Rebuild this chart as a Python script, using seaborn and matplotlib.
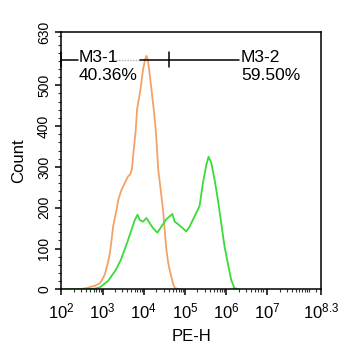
import numpy as np
import pandas as pd
import matplotlib
matplotlib.use("Agg")
import matplotlib.pyplot as plt
import matplotlib.ticker as mticker
import seaborn as sns

# ---- histogram traces (log10 of PE-H, event count) ----
control_log = [2.00, 2.40, 2.60, 2.70, 2.811, 2.932, 3.005, 3.053, 3.126, 3.174,
               3.206, 3.254, 3.337, 3.380, 3.458, 3.538, 3.617, 3.671, 3.707,
               3.755, 3.804, 3.835, 3.918, 3.981, 4.034, 4.063, 4.094, 4.126,
               4.184, 4.240, 4.288, 4.320, 4.349, 4.409, 4.465, 4.506, 4.547,
               4.591, 4.627, 4.707, 4.748, 4.821, 4.918]
control_count = [0, 0, 3, 6, 9, 15, 27, 37, 65, 88,
                 113, 154, 195, 220, 244, 261, 277, 282, 293,
                 343, 392, 441, 490, 540, 565, 572, 563, 540,
                 490, 441, 392, 343, 293, 244, 195, 146, 97,
                 65, 47, 15, 4, 1, 0]

sample_log = [2.00, 2.610, 2.811, 2.932, 3.133, 3.320, 3.441, 3.617, 3.700,
              3.780, 3.845, 3.901, 3.981, 4.063, 4.119, 4.223, 4.329, 4.426,
              4.547, 4.627, 4.692, 4.748, 4.828, 4.910, 5.031, 5.111, 5.232,
              5.354, 5.433, 5.516, 5.571, 5.637, 5.717, 5.797, 5.879, 5.959,
              6.039, 6.121, 6.201, 6.322]
sample_count = [0, 0, 2, 5, 21, 48, 72, 121, 146,
                170, 183, 170, 166, 175, 166, 150, 139, 154,
                172, 179, 185, 166, 160, 153, 142, 154, 179,
                205, 260, 305, 325, 310, 269, 220, 162, 105,
                64, 23, 3, 0]

# ---- gates ----
gate_names = ["M3-1", "M3-2"]
gate_pcts = ["40.36%", "59.50%"]
gate_edges_log = [2.0, 4.61, 6.30]
gate_level = 563

x_tick_exps = [2, 3, 4, 5, 6, 7, 8.3]
x_tick_labels = [r"$10^{2}$", r"$10^{3}$", r"$10^{4}$", r"$10^{5}$",
                 r"$10^{6}$", r"$10^{7}$", r"$10^{8.3}$"]
y_ticks = [0, 100, 200, 300, 400, 500, 630]

ORANGE = "#F2A266"
GREEN = "#38DC38"

sns.set_style("ticks")
plt.rcParams["font.family"] = ["Liberation Sans", "DejaVu Sans"]
plt.rcParams["mathtext.fontset"] = "custom"
plt.rcParams["mathtext.rm"] = "Liberation Sans"
plt.rcParams["mathtext.it"] = "Liberation Sans"
plt.rcParams["text.color"] = "black"
plt.rcParams["axes.labelcolor"] = "black"
plt.rcParams["xtick.color"] = "black"
plt.rcParams["ytick.color"] = "black"

df_c = pd.DataFrame({"PE-H": np.power(10.0, control_log), "Count": control_count})
df_s = pd.DataFrame({"PE-H": np.power(10.0, sample_log), "Count": sample_count})

fig = plt.figure(figsize=(3.5, 3.47), dpi=100)
ax = fig.add_axes([0.1757, 0.166, 0.7413, 0.741])

sns.lineplot(data=df_c, x="PE-H", y="Count", ax=ax, color=ORANGE,
             linewidth=1.3, sort=False, estimator=None)
sns.lineplot(data=df_s, x="PE-H", y="Count", ax=ax, color=GREEN,
             linewidth=1.3, sort=False, estimator=None)

ax.set_xscale("log")
ax.set_xlim(10 ** 2, 10 ** 8.3)
ax.set_ylim(0, 630)

ax.xaxis.set_major_locator(mticker.FixedLocator([10 ** e for e in x_tick_exps]))
ax.xaxis.set_major_formatter(mticker.FixedFormatter(x_tick_labels))
minor_x = [m * 10 ** d for d in range(2, 8) for m in range(2, 10)] + [1e8, 1.5e8]
ax.xaxis.set_minor_locator(mticker.FixedLocator(minor_x))
ax.xaxis.set_minor_formatter(mticker.NullFormatter())

ax.set_yticks(y_ticks)
ax.set_yticklabels([str(v) for v in y_ticks], rotation=90, va="center")
ax.yaxis.set_minor_locator(mticker.FixedLocator(list(range(20, 630, 20))))

ax.tick_params(axis="both", which="major", direction="out", length=4.5,
               width=1.1, color="black")
ax.tick_params(axis="both", which="minor", direction="out", length=2.5,
               width=0.8, color="#333333")
ax.tick_params(axis="x", which="major", labelsize=12, pad=4, labelcolor="black")
ax.tick_params(axis="y", which="major", labelsize=10, pad=3, labelcolor="black")

for sp in ax.spines.values():
    sp.set_visible(True)
    sp.set_linewidth(1.1)
    sp.set_color("black")

ax.set_xlabel("PE-H", fontsize=12, labelpad=6, color="black")
ax.set_ylabel("Count", fontsize=12, labelpad=8, color="black")

# gate bars
lo, mid, hi = [10 ** e for e in gate_edges_log]
ax.plot([lo, 10 ** 2.40], [gate_level] * 2, color="black", lw=1.1, clip_on=False)
ax.plot([10 ** 3.25, 10 ** 3.90], [gate_level] * 2, color="#b0b0b0",
        lw=1.0, ls=(0, (1, 1)))
ax.plot([10 ** 3.90, hi], [gate_level] * 2, color="black", lw=1.1)
for xv in (lo, mid):
    ax.plot([xv, xv], [gate_level - 19, gate_level + 19], color="black",
            lw=1.1, clip_on=False)

text_x = [10 ** 2.42, 10 ** 6.36]
for tx, name, pct in zip(text_x, gate_names, gate_pcts):
    ax.text(tx, gate_level + 4, name, fontsize=12.5, ha="left", va="center",
            color="black")
    ax.text(tx, gate_level - 39, pct, fontsize=12.5, ha="left", va="center",
            color="black")

fig.savefig("out.png", dpi=100, facecolor="white")
